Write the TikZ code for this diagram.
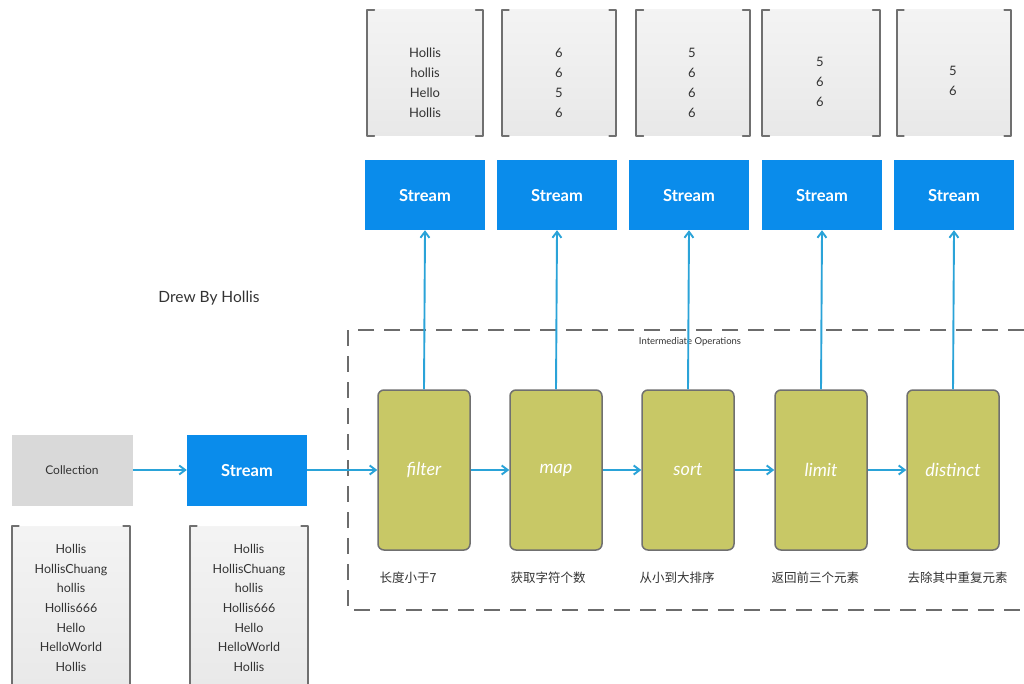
\documentclass[tikz,border=0pt]{standalone}
\usepackage{fontspec}
\setmainfont{Lato}
\newfontfamily\cjk{Noto Sans CJK SC}
\usetikzlibrary{arrows.meta}
\definecolor{streamblue}{HTML}{0A8CEB}
\definecolor{opgreen}{HTML}{C8C866}
\definecolor{flowblue}{HTML}{2AA3D8}
\definecolor{collgray}{HTML}{D9D9D9}
\definecolor{paperedge}{HTML}{707070}
\definecolor{ink}{HTML}{333333}
\begin{document}
\begin{tikzpicture}[x=1pt,y=-1pt,
  streambox/.style={fill=streamblue, minimum width=120pt, minimum height=70pt, inner sep=0pt, text=white, font=\fontsize{16.5}{18}\selectfont\bfseries, text depth=-3pt},
  collbox/.style={fill=collgray, minimum width=121pt, minimum height=71pt, inner sep=0pt, text=ink, font=\fontsize{12}{14}\selectfont},
  opbox/.style={draw=paperedge, line width=1.5pt, fill=opgreen, rounded corners=6pt, minimum width=92pt, minimum height=160pt, inner sep=0pt, text=white, font=\fontsize{18}{20}\selectfont\itshape},
  paper/.style={top color=gray!9, bottom color=gray!18, draw=none, inner sep=0pt},
  papertext/.style={align=center, text=ink, font=\fontsize{13}{20}\selectfont},
  bracket/.style={draw=paperedge, line width=1.8pt, line cap=round, line join=round},
  flow/.style={draw=flowblue, line width=1.9pt, -{Straight Barb[length=6pt,width=9pt]}},
  cnlabel/.style={anchor=west, text=ink, font=\cjk\fontsize{12.5}{14}\selectfont},
  opframe/.style={draw=gray!85!black, line width=1.3pt, dash pattern=on 16pt off 10pt}
]
\useasboundingbox (0,0) rectangle (1024,684);
\clip (0,0) rectangle (1024,684);
\fill[white] (0,0) rectangle (1024,684);

% top paper boxes
\node[paper, minimum width=115pt, minimum height=126pt] (p1) at (425,73) {};
\node[paper, minimum width=114pt, minimum height=126pt] (p2) at (559,73) {};
\node[paper, minimum width=113pt, minimum height=126pt] (p3) at (693,73) {};
\node[paper, minimum width=117pt, minimum height=126pt] (p4) at (821,73) {};
\node[paper, minimum width=114pt, minimum height=126pt] (p5) at (954,73) {};
\foreach \n in {p1,p2,p3,p4,p5}{
  \draw[bracket] ([xshift=7pt]\n.north west) -- (\n.north west) -- (\n.south west) -- ([xshift=7pt]\n.south west);
  \draw[bracket] ([xshift=-7pt]\n.north east) -- (\n.north east) -- (\n.south east) -- ([xshift=-7pt]\n.south east);
}
\node[papertext] (t1) at (425,83) {Hollis\\hollis\\Hello\\Hollis};
\node[papertext] (t2) at (559,83) {6\\6\\5\\6};
\node[papertext] (t3) at (692,83) {5\\6\\6\\6};
\node[papertext] (t4) at (820,82) {5\\6\\6};
\node[papertext] (t5) at (953,81) {5\\6};

% stream boxes on top
\node[streambox] (s1) at (425,195) {Stream};
\node[streambox] (s2) at (557,195) {Stream};
\node[streambox] (s3) at (689,195) {Stream};
\node[streambox] (s4) at (822,195) {Stream};
\node[streambox] (s5) at (954,195) {Stream};

% title
\node[text=ink, font=\fontsize{15.5}{18}\selectfont] (title) at (209,298) {Drew By Hollis};

% intermediate frame
\draw[opframe] (1024,330) -- (348,330) -- (348,610) -- (1024,610);
\node[text=ink, font=\fontsize{9.5}{11}\selectfont] (imlabel) at (690,342) {Intermediate Operations};

% operation boxes
\node[opbox] (f1) at (424,470) {filter};
\node[opbox] (f2) at (556,470) {map};
\node[opbox] (f3) at (688,470) {sort};
\node[opbox] (f4) at (821,470) {limit};
\node[opbox] (f5) at (953,470) {distinct};

\node[cnlabel] (c1) at (376,578) {长度小于7};
\node[cnlabel] (c2) at (507,578) {获取字符个数};
\node[cnlabel] (c3) at (636,578) {从小到大排序};
\node[cnlabel] (c4) at (768,578) {返回前三个元素};
\node[cnlabel] (c5) at (904,578) {去除其中重复元素};

% source
\node[collbox] (coll) at (72,470) {Collection};
\node[streambox, minimum height=71pt] (s0) at (247,470) {Stream};

% bottom paper boxes
\node[paper, minimum width=118pt, minimum height=174pt] (q1) at (71,613) {};
\node[paper, minimum width=118pt, minimum height=174pt] (q2) at (249,613) {};
\foreach \n in {q1,q2}{
  \draw[bracket] ([xshift=7pt]\n.north west) -- (\n.north west) -- (\n.south west);
  \draw[bracket] ([xshift=-7pt]\n.north east) -- (\n.north east) -- (\n.south east);
}
\node[papertext, font=\fontsize{12.5}{19.6}\selectfont] (u1) at (71,608) {Hollis\\HollisChuang\\hollis\\Hollis666\\Hello\\HelloWorld\\Hollis};
\node[papertext, font=\fontsize{12.5}{19.6}\selectfont] (u2) at (249,608) {Hollis\\HollisChuang\\hollis\\Hollis666\\Hello\\HelloWorld\\Hollis};

% connectors
\draw[flow] (coll.east) -- (s0.west);
\draw[flow] (s0.east) -- (f1.west);
\draw[flow] (f1.east) -- (f2.west);
\draw[flow] (f2.east) -- (f3.west);
\draw[flow] (f3.east) -- (f4.west);
\draw[flow] (f4.east) -- (f5.west);
\draw[flow] (f1.north) -- (s1.south);
\draw[flow] (f2.north) -- (s2.south);
\draw[flow] (f3.north) -- (s3.south);
\draw[flow] (f4.north) -- (s4.south);
\draw[flow] (f5.north) -- (s5.south);
\end{tikzpicture}
\end{document}
